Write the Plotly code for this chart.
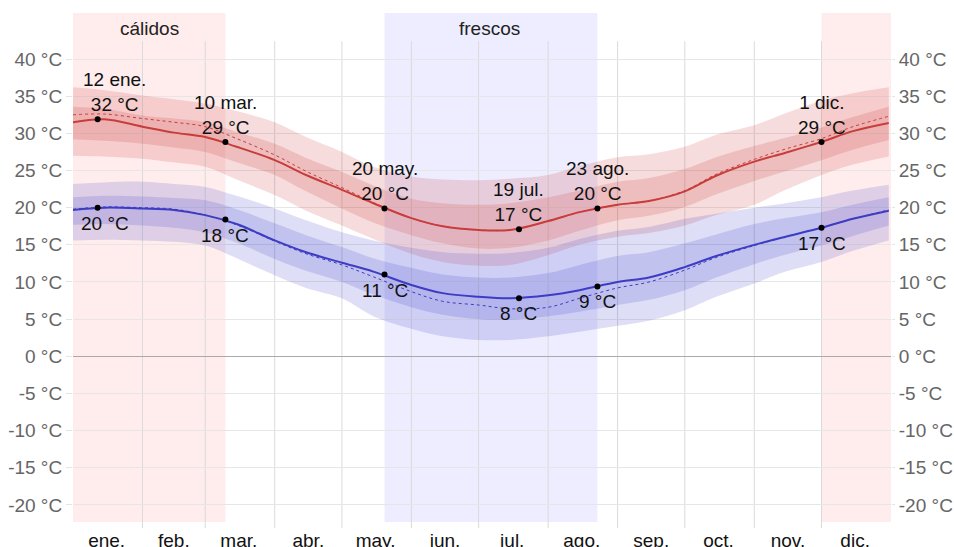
import plotly.graph_objects as go

# ---------------- data ----------------
DATES = ["2023-01-01", "2023-01-15", "2023-02-01", "2023-02-15", "2023-03-01", "2023-03-15",
         "2023-04-01", "2023-04-15", "2023-05-01", "2023-05-15", "2023-06-01", "2023-06-15",
         "2023-07-01", "2023-07-15", "2023-08-01", "2023-08-15", "2023-09-01", "2023-09-15",
         "2023-10-01", "2023-10-15", "2023-11-01", "2023-11-15", "2023-12-01", "2023-12-15",
         "2023-12-31"]

HIGH = [31.5, 31.9, 30.9, 30.1, 29.5, 28.2, 26.4, 24.4, 22.4, 20.6, 18.6, 17.5, 17.0,
        17.0, 18.2, 19.4, 20.4, 20.9, 22.2, 24.3, 26.2, 27.4, 28.85, 30.3, 31.4]
HIGH_P90 = [36.2, 35.8, 35.1, 34.6, 34.0, 33.0, 31.5, 29.5, 27.5, 25.5, 24.2, 23.8, 23.7,
            23.9, 24.4, 25.6, 26.8, 27.2, 28.2, 29.8, 31.1, 32.7, 34.4, 35.4, 36.2]
HIGH_P75 = [33.6, 33.3, 32.4, 32.0, 31.5, 30.2, 28.6, 26.7, 24.8, 23.0, 21.2, 20.6, 20.4,
            20.6, 21.4, 22.3, 23.5, 24.0, 25.2, 26.8, 28.3, 29.4, 30.8, 32.2, 33.6]
HIGH_P25 = [29.2, 29.0, 28.6, 28.1, 27.5, 26.1, 24.4, 22.2, 19.9, 18.0, 16.3, 15.2, 14.5,
            14.6, 15.6, 16.9, 18.3, 18.9, 20.1, 21.8, 23.6, 24.9, 26.4, 27.8, 29.1]
HIGH_P10 = [27.0, 26.9, 26.6, 26.1, 25.5, 23.8, 21.7, 19.6, 17.6, 15.8, 13.8, 12.7, 12.2,
            12.3, 13.6, 15.0, 16.1, 16.6, 17.6, 19.0, 20.4, 22.4, 24.4, 25.8, 26.9]
HIGH_FEEL = [32.5, 32.6, 32.0, 31.5, 30.9, 29.3, 27.1, 24.9, 22.7, 20.7, 18.6, 17.5, 17.0,
             17.0, 18.2, 19.4, 20.4, 20.9, 22.3, 24.5, 26.5, 27.9, 29.3, 30.9, 32.3]

LOW = [19.7, 20.0, 19.9, 19.7, 19.0, 17.8, 15.6, 14.0, 12.6, 11.4, 9.6, 8.5, 8.0,
       7.8, 8.2, 8.9, 10.0, 10.6, 12.0, 13.5, 15.0, 16.1, 17.3, 18.5, 19.6]
LOW_P90 = [23.2, 23.4, 23.5, 23.2, 22.8, 21.6, 19.9, 18.3, 16.7, 15.6, 14.6, 14.0, 13.8,
           13.9, 14.6, 15.8, 16.9, 17.4, 18.5, 19.2, 20.0, 20.6, 21.4, 22.3, 23.1]
LOW_P75 = [21.4, 21.6, 21.5, 21.3, 21.0, 19.8, 17.9, 16.3, 14.7, 13.2, 11.9, 11.0, 10.6,
           10.6, 11.2, 12.3, 13.5, 14.0, 15.2, 16.4, 17.8, 18.6, 19.4, 20.4, 21.4]
LOW_P25 = [17.7, 17.8, 17.6, 17.3, 16.7, 15.3, 13.1, 11.5, 10.0, 8.3, 6.6, 5.6, 5.0,
           4.9, 5.4, 6.0, 6.9, 7.6, 8.9, 10.6, 12.4, 13.7, 14.9, 16.2, 17.6]
LOW_P10 = [15.6, 15.7, 15.6, 15.4, 14.9, 13.2, 10.9, 9.2, 7.8, 5.4, 3.7, 2.7, 2.2,
           2.2, 2.7, 3.3, 4.1, 4.8, 6.2, 8.0, 9.8, 11.4, 12.7, 14.2, 15.6]
LOW_FEEL = [19.8, 20.1, 20.0, 19.8, 19.0, 17.7, 15.5, 13.8, 12.3, 10.7, 8.7, 7.4, 6.9,
            6.4, 6.6, 7.8, 9.2, 10.0, 11.6, 13.3, 14.9, 16.1, 17.3, 18.5, 19.7]

MARK_DATES = ["2023-01-12", "2023-03-10", "2023-05-20", "2023-07-19", "2023-08-23", "2023-12-01"]
MARK_DATE_LABELS = ["12 ene.", "10 mar.", "20 may.", "19 jul.", "23 ago.", "1 dic."]
MARK_HIGH = [31.9, 28.85, 19.9, 17.1, 19.9, 28.85]
MARK_HIGH_LABELS = [32, 29, 20, 17, 20, 29]
MARK_LOW = [20.0, 18.4, 11.0, 7.8, 9.4, 17.3]
MARK_LOW_LABELS = [20, 18, 11, 8, 9, 17]

MONTH_LABELS = ["ene.", "feb.", "mar.", "abr.", "may.", "jun.", "jul.", "ago.", "sep.",
                "oct.", "nov.", "dic."]
MONTH_MID = ["2023-01-16", "2023-02-15", "2023-03-16", "2023-04-16", "2023-05-16",
             "2023-06-16", "2023-07-16", "2023-08-16", "2023-09-16", "2023-10-16",
             "2023-11-16", "2023-12-16"]
MONTH_START = ["2023-02-01", "2023-03-01", "2023-04-01", "2023-05-01", "2023-06-01",
               "2023-07-01", "2023-08-01", "2023-09-01", "2023-10-01", "2023-11-01",
               "2023-12-01"]

Y_TICKS = [-20, -15, -10, -5, 0, 5, 10, 15, 20, 25, 30, 35, 40]
Y_TICK_LABELS = [f"{v} °C" for v in Y_TICKS]

WARM_PERIODS = [("2023-01-01", "2023-03-10"), ("2023-12-01", "2024-01-01")]
WARM_LABEL = ("cálidos", "2023-02-04")
COOL_PERIODS = [("2023-05-20", "2023-08-23")]
COOL_LABEL = ("frescos", "2023-07-06")

# ---------------- styles ----------------
FONT = "Liberation Sans, Arial, sans-serif"
FS = 19
RED = "#c83c3c"
BLUE = "#3c3cc4"
RED_BAND = "rgba(200,40,40,0.16)"
BLUE_BAND = "rgba(50,50,200,0.16)"
GRID = "#e6e6e6"
VGRID = "#dadada"
Y_RANGE = [-22.3, 46.2]
GRID_TOP = 42.4

fig = go.Figure()

def band(lo, hi, color):
    fig.add_trace(go.Scatter(x=DATES, y=lo, mode="lines", line=dict(width=0, shape="spline"),
                             hoverinfo="skip", showlegend=False))
    fig.add_trace(go.Scatter(x=DATES, y=hi, mode="lines", line=dict(width=0, shape="spline"),
                             fill="tonexty", fillcolor=color, hoverinfo="skip", showlegend=False))

band(HIGH_P10, HIGH_P90, RED_BAND)
band(HIGH_P25, HIGH_P75, RED_BAND)
band(LOW_P10, LOW_P90, BLUE_BAND)
band(LOW_P25, LOW_P75, BLUE_BAND)

fig.add_trace(go.Scatter(x=DATES, y=HIGH_FEEL, mode="lines",
                         line=dict(color=RED, width=1, dash="dot", shape="spline"), showlegend=False))
fig.add_trace(go.Scatter(x=DATES, y=LOW_FEEL, mode="lines",
                         line=dict(color=BLUE, width=1, dash="dot", shape="spline"), showlegend=False))
fig.add_trace(go.Scatter(x=DATES, y=HIGH, mode="lines",
                         line=dict(color=RED, width=2, shape="spline"), showlegend=False))
fig.add_trace(go.Scatter(x=DATES, y=LOW, mode="lines",
                         line=dict(color=BLUE, width=2, shape="spline"), showlegend=False))

fig.add_trace(go.Scatter(x=MARK_DATES, y=MARK_HIGH, mode="markers",
                         marker=dict(color="black", size=6), showlegend=False))
fig.add_trace(go.Scatter(x=MARK_DATES, y=MARK_LOW, mode="markers",
                         marker=dict(color="black", size=6), showlegend=False))
# invisible trace for right axis
fig.add_trace(go.Scatter(x=[DATES[0]], y=[0], yaxis="y2", mode="markers",
                         marker=dict(opacity=0), hoverinfo="skip", showlegend=False))

shapes = []
for a, b in WARM_PERIODS:
    shapes.append(dict(type="rect", xref="x", yref="paper", x0=a, x1=b, y0=0, y1=1,
                       fillcolor="rgba(255,0,0,0.075)", line=dict(width=0), layer="below"))
for a, b in COOL_PERIODS:
    shapes.append(dict(type="rect", xref="x", yref="paper", x0=a, x1=b, y0=0, y1=1,
                       fillcolor="rgba(0,0,255,0.07)", line=dict(width=0), layer="below"))
top_frac = (GRID_TOP - Y_RANGE[0]) / (Y_RANGE[1] - Y_RANGE[0])
for d in MONTH_START:
    shapes.append(dict(type="line", xref="x", yref="paper", x0=d, x1=d, y0=-0.012, y1=top_frac,
                       line=dict(color=VGRID, width=1), layer="below"))

annotations = []
for txt, d in [WARM_LABEL, COOL_LABEL]:
    annotations.append(dict(x=d, y=0.97, xref="x", yref="paper", text=txt, showarrow=False,
                            font=dict(family=FONT, size=FS, color="#222"), yanchor="middle"))
for i, d in enumerate(MARK_DATES):
    xs_hi = 17 if i == 0 else 0
    xs_lo = 7 if i == 0 else 0
    annotations.append(dict(x=d, y=MARK_HIGH[i], text=f"{MARK_DATE_LABELS[i]}<br>{MARK_HIGH_LABELS[i]} °C",
                            showarrow=False, yanchor="bottom", yshift=2, xshift=xs_hi,
                            font=dict(family=FONT, size=FS, color="#111")))
    annotations.append(dict(x=d, y=MARK_LOW[i], text=f"{MARK_LOW_LABELS[i]} °C",
                            showarrow=False, yanchor="top", yshift=-3, xshift=xs_lo,
                            font=dict(family=FONT, size=FS, color="#111")))

fig.update_layout(
    width=954, height=547,
    margin=dict(l=73, r=63, t=13, b=25, autoexpand=False),
    paper_bgcolor="white", plot_bgcolor="white",
    font=dict(family=FONT, size=FS),
    shapes=shapes, annotations=annotations,
    xaxis=dict(type="date", range=["2023-01-01", "2024-01-01"], showgrid=False,
               tickvals=MONTH_MID, ticktext=MONTH_LABELS, ticks="outside", ticklen=1,
               tickcolor="rgba(0,0,0,0)", tickfont=dict(family=FONT, size=FS, color="#111"),
               showline=False, zeroline=False, fixedrange=True, automargin=False),
    yaxis=dict(range=Y_RANGE, tickvals=Y_TICKS, ticktext=Y_TICK_LABELS, showgrid=True,
               gridcolor=GRID, gridwidth=1, ticks="outside", ticklen=6, tickcolor=GRID,
               zeroline=True, zerolinecolor="#aaaaaa", zerolinewidth=1, automargin=False,
               tickfont=dict(family=FONT, size=FS, color="#666"), showline=False),
    yaxis2=dict(range=Y_RANGE, tickvals=Y_TICKS, ticktext=Y_TICK_LABELS, overlaying="y",
                side="right", showgrid=False, ticks="outside", ticklen=3, tickcolor=GRID,
                zeroline=False, automargin=False,
                tickfont=dict(family=FONT, size=FS, color="#666"), showline=False),
)

# remove the default page margin so the figure fills the window exactly
fig.write_html("out.html", config={"displayModeBar": False},
               post_script="document.body.style.margin='0';document.body.style.overflow='hidden';")
